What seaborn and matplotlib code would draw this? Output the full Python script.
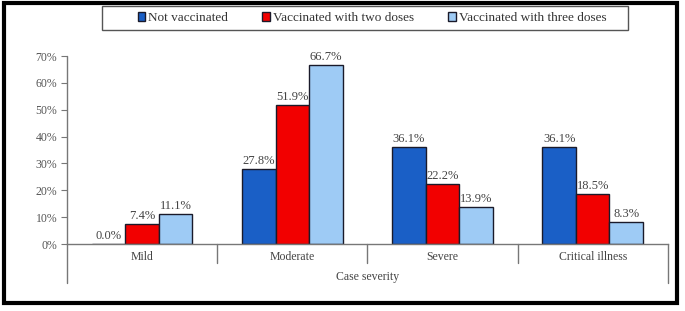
import pandas as pd
import seaborn as sns
import matplotlib.pyplot as plt
from matplotlib.patches import Rectangle
from matplotlib.ticker import FuncFormatter

# chart data
severity = ['Mild', 'Moderate', 'Severe', 'Critical illness']
groups = ['Not vaccinated', 'Vaccinated with two doses', 'Vaccinated with three doses']
not_vacc = [0.0, 27.8, 36.1, 36.1]
two_doses = [7.4, 51.9, 22.2, 18.5]
three_doses = [11.1, 66.7, 13.9, 8.3]
colors = ['#1A5FC6', '#F20000', '#9ECBF5']

df = pd.DataFrame({
    'severity': severity * 3,
    'group': [groups[0]] * 4 + [groups[1]] * 4 + [groups[2]] * 4,
    'value': not_vacc + two_doses + three_doses,
})

sns.set_theme(style="white")
plt.rcParams['font.family'] = ['Liberation Serif', 'DejaVu Serif']

fig = plt.figure(figsize=(6.85, 3.11), dpi=100)
ax = fig.add_axes([0.0978, 0.2154, 0.877, 0.6045])

sns.barplot(data=df, x='severity', y='value', hue='group', palette=colors,
            saturation=1, width=0.67, edgecolor='#1a1a2a', linewidth=1.0,
            ax=ax, legend=True)

# data labels
for cont in ax.containers:
    ax.bar_label(cont, labels=[f'{b.get_height():.1f}%' for b in cont],
                 padding=1.5, fontsize=9, color='#444444')

ax.set_ylim(0, 70)
ax.set_xlim(-0.5, 3.5)
ax.set_yticks(range(0, 71, 10))
ax.yaxis.set_major_formatter(FuncFormatter(lambda v, p: f'{v:.0f}%'))
ax.tick_params(axis='y', left=True, length=4, width=0.8, color='#777777',
               labelsize=8.5, labelcolor='#555555', pad=3)
ax.tick_params(axis='x', bottom=False, labelbottom=False)
ax.set_xlabel('')
ax.set_ylabel('')
for s in ['top', 'right', 'left']:
    ax.spines[s].set_visible(False)
ax.spines['bottom'].set_color('#777777')
ax.spines['bottom'].set_linewidth(1.0)

# multi-level category axis lines
line_kw = dict(transform=ax.transAxes, clip_on=False, color='#777777', lw=1.0)
ax.plot([0, 0], [-0.207, 1.0], **line_kw)
ax.plot([1, 1], [-0.207, 0], **line_kw)
for i in range(1, 4):
    xa = i / 4
    ax.plot([xa, xa], [-0.10, 0], **line_kw)
for i, name in enumerate(severity):
    ax.text((i + 0.5) / 4, -0.07, name, transform=ax.transAxes,
            ha='center', va='center', fontsize=8.5, color='#444444')
ax.text(0.5, -0.175, 'Case severity', transform=ax.transAxes,
        ha='center', va='center', fontsize=8.5, color='#444444')

# legend at the top, with its own box
handles, labels = ax.get_legend_handles_labels()
ax.get_legend().remove()
fig.legend(handles, labels, loc='center', bbox_to_anchor=(0.543, 0.942),
           ncol=3, frameon=False, fontsize=9.5, handlelength=0.6,
           handleheight=0.6, handletextpad=0.2, columnspacing=2.6,
           labelcolor='#333333')
fig.patches.append(Rectangle((0.149, 0.9035), 0.768, 0.077, transform=fig.transFigure,
                             fill=False, edgecolor='#555555', linewidth=1.0))

# outer frame
fig.patches.append(Rectangle((0.006, 0.026), 0.982, 0.964, transform=fig.transFigure,
                             fill=False, edgecolor='black', linewidth=3))

fig.savefig('out.png', dpi=100)
